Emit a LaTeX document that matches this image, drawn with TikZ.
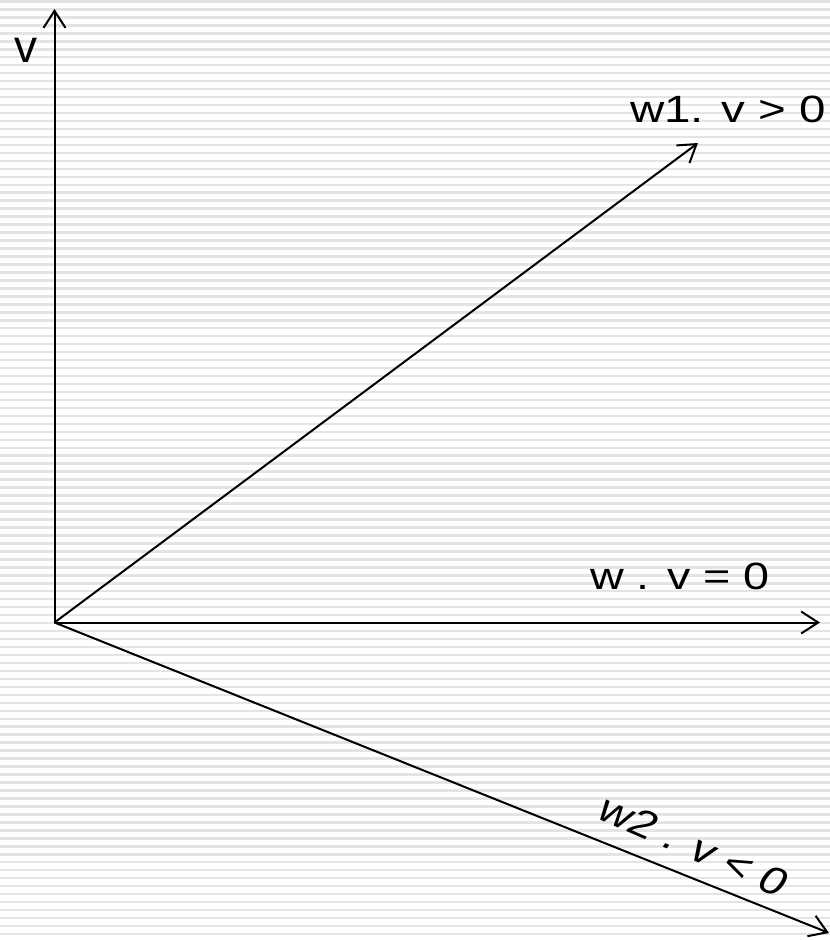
\documentclass[tikz,border=0pt]{standalone}
\usepackage{fontspec}
\setmainfont{Liberation Sans}
\usetikzlibrary{arrows.meta}
\definecolor{stripe}{RGB}{228,228,228}
\tikzset{
  axis/.style={line width=2pt, -{Straight Barb[length=17pt,width=22pt]}},
  lbl/.style={inner sep=0pt, font=\fontsize{38}{44}\selectfont},
}
\begin{document}
\begin{tikzpicture}[x=1pt,y=-1pt]
\useasboundingbox (0,0) rectangle (830,940);
\fill[white] (0,0) rectangle (830,940);
\foreach \i in {0,...,117}{
  \fill[stripe] (0,{0.2+\i*7.97}) rectangle (830,{2.7+\i*7.97});
}
\coordinate (O) at (54.5,622.5);
\coordinate (V) at (54.5,9);
\coordinate (H) at (820,622.5);
\coordinate (W1) at (698,143);
\coordinate (W2) at (829,933);
\draw[axis] (O) -- (V);
\draw[axis] (O) -- (H);
\draw[axis] (O) -- (W1);
\draw[axis] (O) -- (W2);
\node[inner sep=0pt, anchor=base west, font=\fontsize{46}{52}\selectfont] (lv) at (14,62) {v};
\node[lbl, anchor=base west, xscale=1.25] (lw1) at (630,122) {w1. v > 0};
\node[lbl, anchor=base west, xscale=1.23] (lw) at (590,589) {w . v = 0};
\node[lbl, xscale=1.25, rotate=-28.7] (lw2) at (694,846) {w2 . v < 0};
\end{tikzpicture}
\end{document}
